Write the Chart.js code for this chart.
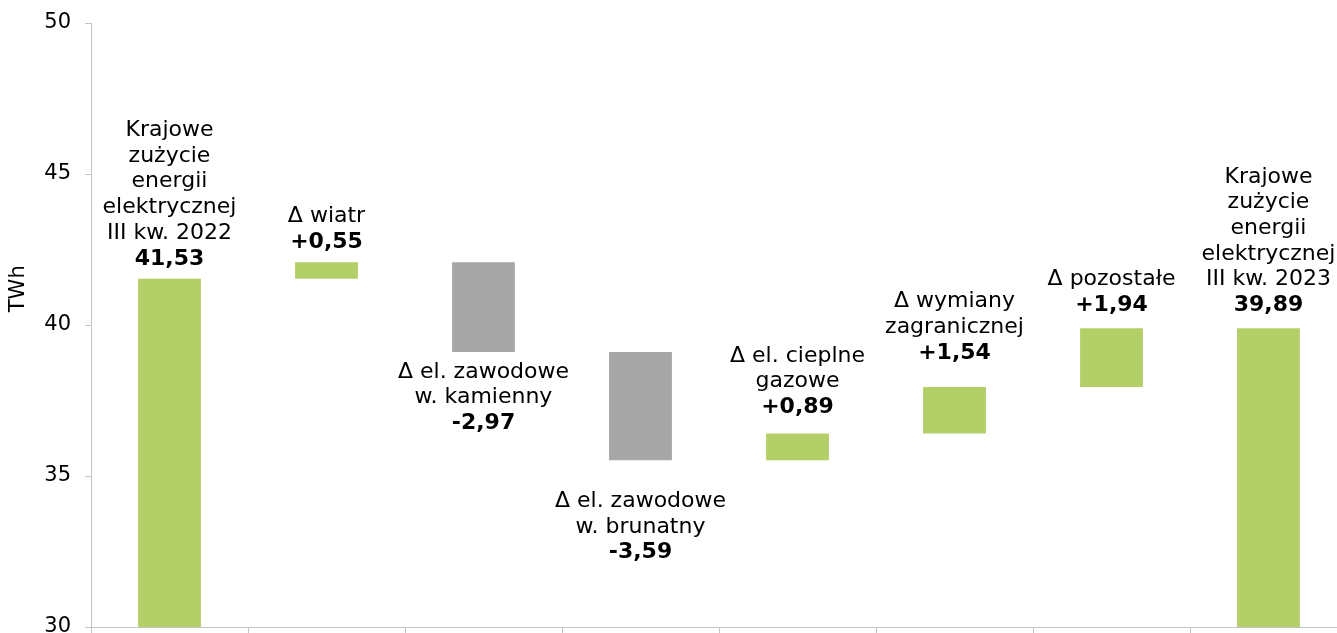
<!DOCTYPE html>
<html lang="pl">
<head>
<meta charset="utf-8">
<title>Bilans zużycia energii elektrycznej</title>
<script src="https://cdn.jsdelivr.net/npm/chart.js@4.4.1/dist/chart.umd.min.js"></script>
<style>
  html, body { margin: 0; padding: 0; background: #fff; overflow: hidden; }
  #wrap { width: 1347px; height: 633px; position: relative; }
</style>
</head>
<body>
<div id="wrap"><canvas id="bilans"></canvas></div>
<script>
// opis kolejnych słupków (ostatnia linia nad wartością)
const categories = [
  ["Krajowe", "zużycie", "energii", "elektrycznej", "III kw. 2022"],
  ["Δ wiatr"],
  ["Δ el. zawodowe", "w. kamienny"],
  ["Δ el. zawodowe", "w. brunatny"],
  ["Δ el. cieplne", "gazowe"],
  ["Δ wymiany", "zagranicznej"],
  ["Δ pozostałe"],
  ["Krajowe", "zużycie", "energii", "elektrycznej", "III kw. 2023"]
];
const values = [41.53, 0.55, -2.97, -3.59, 0.89, 1.54, 1.94, 39.89];
const isTotal = [true, false, false, false, false, false, false, true];
const yTicks = [30, 35, 40, 45, 50];

const GREEN = "#b3cf67";
const GREY = "#a6a6a6";
const AXIS = "#c4c4c4";
const FONT = '"DejaVu Sans", Verdana, sans-serif';

// słupki pływające: sumy od dołu osi, zmiany od bieżącego poziomu
let level = 0;
const ranges = values.map(function (v, i) {
  if (isTotal[i]) { level = v; return [yTicks[0], v]; }
  const r = [level, level + v];
  level += v;
  return r;
});
const colors = values.map(function (v, i) {
  return (!isTotal[i] && v < 0) ? GREY : GREEN;
});

function fmt(i) {
  const s = Math.abs(values[i]).toFixed(2).replace(".", ",");
  if (isTotal[i]) return s;
  return (values[i] < 0 ? "-" : "+") + s;
}

const barLabels = {
  id: "barLabels",
  afterDatasetsDraw(chart, args, opts) {
    const ctx = chart.ctx;
    const meta = chart.getDatasetMeta(0);
    ctx.save();
    ctx.fillStyle = "#000";
    ctx.textAlign = "center";
    ctx.textBaseline = "middle";
    meta.data.forEach(function (bar, i) {
      const top = Math.min(bar.y, bar.base);
      const bottom = Math.max(bar.y, bar.base);
      const lines = categories[i];
      const lh = opts.lineHeight;
      let y0;
      if (!isTotal[i] && values[i] < 0) {
        y0 = bottom + opts.gaps[i];
      } else {
        y0 = top - opts.gaps[i] - lines.length * lh;
      }
      ctx.font = "22px " + FONT;
      lines.forEach(function (t, k) { ctx.fillText(t, bar.x, y0 + k * lh); });
      ctx.font = "bold 22px " + FONT;
      ctx.fillText(fmt(i), bar.x, y0 + lines.length * lh);
    });

    // tytuł osi Y
    const area = chart.chartArea;
    ctx.font = "21px " + FONT;
    ctx.translate(19, area.top + (area.bottom - area.top) * 0.44);
    ctx.rotate(-Math.PI / 2);
    ctx.fillText("TWh", 0, 0);
    ctx.restore();
  }
};

document.addEventListener("DOMContentLoaded", function () {
  let ctx = document.getElementById("bilans").getContext("2d");

  new Chart(ctx, {
    type: "bar",
    data: {
      labels: categories.map(function (c) { return c.join(" "); }),
      datasets: [{
        data: ranges,
        backgroundColor: colors,
        borderWidth: 0,
        categoryPercentage: 1,
        barPercentage: 0.4
      }]
    },
    options: {
      responsive: true,
      maintainAspectRatio: false,
      animation: false,
      layout: { padding: { top: 23, right: 0, bottom: 0, left: 0 } },
      plugins: {
        legend: { display: false },
        tooltip: { enabled: false },
        barLabels: {
          lineHeight: 25.7,
          gaps: [20, 20, 20, 41, 26, 34, 23, 23]
        }
      },
      scales: {
        x: {
          grid: { offset: true, drawOnChartArea: false, tickLength: 6, color: AXIS },
          border: { color: AXIS },
          ticks: { display: false }
        },
        y: {
          min: 30,
          max: 50,
          afterBuildTicks: function (s) {
            s.ticks = yTicks.map(function (v) { return { value: v }; });
          },
          afterFit: function (s) {
            s.width = 91;
            s.paddingTop = 0;
            s.paddingBottom = 0;
          },
          ticks: { color: "#000", padding: 14, font: { family: FONT, size: 21 } },
          grid: { drawOnChartArea: false, tickLength: 6, color: AXIS },
          border: { color: AXIS }
        }
      }
    },
    plugins: [barLabels]
  });
});
</script>
</body>
</html>
